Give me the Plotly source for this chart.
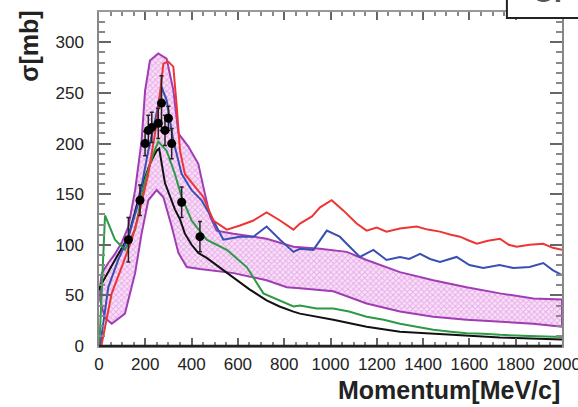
import plotly.graph_objects as go

# ---------------- data ----------------
red_x = [10, 55, 98, 141, 170, 213, 249, 278, 299, 321, 336, 350, 371, 415, 451, 494, 552, 609, 667, 724, 782, 840, 868, 920, 955, 1005, 1055, 1113, 1156, 1200, 1242, 1300, 1372, 1420, 1473, 1520, 1559, 1600, 1632, 1680, 1732, 1770, 1804, 1860, 1919, 1960, 2000]
red_y = [0, 52, 78, 105, 128, 170, 220, 279, 281, 276, 236, 193, 170, 157, 147, 124, 115, 119, 124, 132, 124, 115, 121, 128, 137, 144, 134, 121, 114, 117, 113, 116, 118, 115, 113, 110, 108, 104, 101, 104, 106, 100, 98, 100, 101, 97, 95]

blue_x = [5, 40, 83, 127, 170, 213, 249, 270, 292, 321, 357, 400, 443, 494, 537, 609, 667, 724, 782, 840, 868, 926, 984, 1012, 1040, 1070, 1127, 1185, 1242, 1300, 1340, 1387, 1430, 1473, 1545, 1600, 1660, 1730, 1790, 1860, 1919, 1960, 2000]
blue_y = [0, 58, 85, 108, 141, 193, 230, 256, 243, 203, 170, 154, 144, 124, 105, 108, 108, 118, 105, 93, 96, 95, 114, 111, 108, 101, 88, 95, 85, 88, 86, 91, 86, 83, 88, 80, 77, 80, 77, 78, 82, 75, 70]

green_x = [0, 4, 26, 69, 112, 156, 199, 235, 256, 292, 328, 357, 400, 443, 465, 552, 638, 710, 782, 840, 868, 940, 1012, 1080, 1156, 1230, 1300, 1370, 1444, 1520, 1588, 1660, 1732, 1860, 2000]
green_y = [0, 13, 129, 105, 95, 115, 164, 190, 202, 193, 170, 147, 124, 111, 105, 95, 78, 52, 45, 39, 40, 37, 37, 34, 29, 26, 22, 19, 16, 14, 12.5, 12, 11, 10, 9]

black_x = [0, 4, 69, 127, 184, 220, 249, 260, 285, 328, 350, 371, 400, 429, 465, 520, 581, 650, 724, 780, 840, 868, 1012, 1156, 1300, 1516, 1732, 2000]
black_y = [55, 58.5, 85, 108, 157, 180, 193, 195, 161, 135, 125, 111, 100, 92, 87, 78, 68, 56, 45, 39, 34, 32, 26, 19, 14, 11, 8.5, 6.5]

band_up_x = [5, 12, 40, 69, 100, 127, 156, 184, 199, 220, 256, 292, 321, 343, 386, 429, 451, 480, 508, 581, 724, 840, 955, 1070, 1156, 1300, 1444, 1588, 1732, 1876, 2000]
band_up_y = [60, 72, 82, 91, 103, 118, 154, 203, 252, 282, 289, 284, 253, 210, 197, 180, 157, 128, 114, 111, 106, 98, 96, 93, 85, 73, 65, 58, 52, 47, 46]
band_lo_x = [5, 25, 55, 112, 156, 184, 213, 249, 278, 314, 343, 379, 436, 581, 724, 811, 868, 1012, 1156, 1300, 1444, 1588, 1732, 1876, 2000]
band_lo_y = [45, 28, 22, 32, 72, 111, 144, 154, 147, 118, 92, 78, 76, 72, 65, 58, 57, 54, 42, 34, 29, 26, 24, 22, 19]

data_x = [127, 177, 199, 213, 228, 256, 270, 285, 300, 314, 357, 436]
data_y = [105, 144, 200, 213, 216, 220, 240, 213, 225, 200, 142, 108]
data_err = [22, 15, 12, 15, 15, 15, 27, 15, 12, 15, 15, 15]

x_ticks = [0, 200, 400, 600, 800, 1000, 1200, 1400, 1600, 1800, 2000]
y_ticks = [0, 50, 100, 150, 200, 250, 300]

# ---------------- figure ----------------
fig = go.Figure()

poly_x = band_up_x + band_lo_x[::-1] + [band_up_x[0]]
poly_y = band_up_y + band_lo_y[::-1] + [band_up_y[0]]
fig.add_trace(go.Scatter(
    x=poly_x, y=poly_y, mode="lines", fill="toself",
    fillpattern=dict(shape="x", size=4, solidity=0.45, fgcolor="rgba(205,110,205,0.9)", bgcolor="rgba(250,225,250,1)"),
    line=dict(color="#a03cb4", width=2), hoverinfo="skip"))

for xs, ys, col in [(black_x, black_y, "#111111"), (green_x, green_y, "#2b9a45"),
                    (blue_x, blue_y, "#3a4fb4"), (red_x, red_y, "#ee3535")]:
    fig.add_trace(go.Scatter(x=xs, y=ys, mode="lines", line=dict(color=col, width=2)))

fig.add_trace(go.Scatter(
    x=data_x, y=data_y, mode="markers",
    marker=dict(color="black", size=9),
    error_y=dict(type="data", array=data_err, color="#222", thickness=1.5, width=2)))

axis_font = dict(family="Liberation Sans, Arial", size=17, color="#222")
fig.update_xaxes(
    range=[0, 2000], tickvals=x_ticks, ticks="inside", ticklen=8, tickwidth=1.5, tickcolor="#666",
    minor=dict(dtick=50, ticks="inside", ticklen=4, tickcolor="#888"),
    showline=True, linecolor="#999", linewidth=1.5, mirror="ticks",
    showgrid=False, zeroline=False, tickfont=axis_font, ticklabelstandoff=2,
    ticklabeloverflow="allow", automargin=False)
fig.update_yaxes(
    range=[0, 330], tickvals=y_ticks, ticks="inside", ticklen=12, tickwidth=1.5, tickcolor="#666",
    minor=dict(dtick=10, ticks="inside", ticklen=6, tickcolor="#888"),
    showline=True, linecolor="#888", linewidth=1.5, mirror="ticks",
    showgrid=False, zeroline=False, tickfont=axis_font, ticklabelstandoff=10, automargin=False)

fig.add_shape(type="line", xref="paper", yref="paper", x0=0, x1=1, y0=0, y1=0,
              line=dict(color="#222", width=2.5))
# partially visible legend box (top right)
fig.add_shape(type="rect", xref="paper", yref="paper", x0=0.881, x1=1.1, y0=0.982, y1=1.2,
              line=dict(color="#222", width=2), fillcolor="white", layer="above")
fig.add_annotation(text="<b>Cr</b>", xref="paper", yref="paper", x=0.93, y=1.005,
                   xanchor="left", yanchor="bottom", showarrow=False,
                   font=dict(family="Liberation Sans", size=30, color="#555"))

fig.add_annotation(text="<b>σ[mb]</b>", xref="paper", yref="paper", x=-0.15, y=1.01,
                   xanchor="center", yanchor="top", textangle=-90, showarrow=False,
                   font=dict(family="Liberation Sans, Arial", size=25, color="#222"))
fig.add_annotation(text="<b>Momentum[MeV/c]</b>", xref="paper", yref="paper", x=1.0, y=-0.085,
                   xanchor="right", yanchor="top", showarrow=False,
                   font=dict(family="Liberation Sans, Arial", size=25, color="#222"))

fig.update_layout(
    width=578, height=407, margin=dict(l=99, r=16, t=12, b=61, autoexpand=False),
    paper_bgcolor="white", plot_bgcolor="white", showlegend=False)

fig.write_html("out.html")
